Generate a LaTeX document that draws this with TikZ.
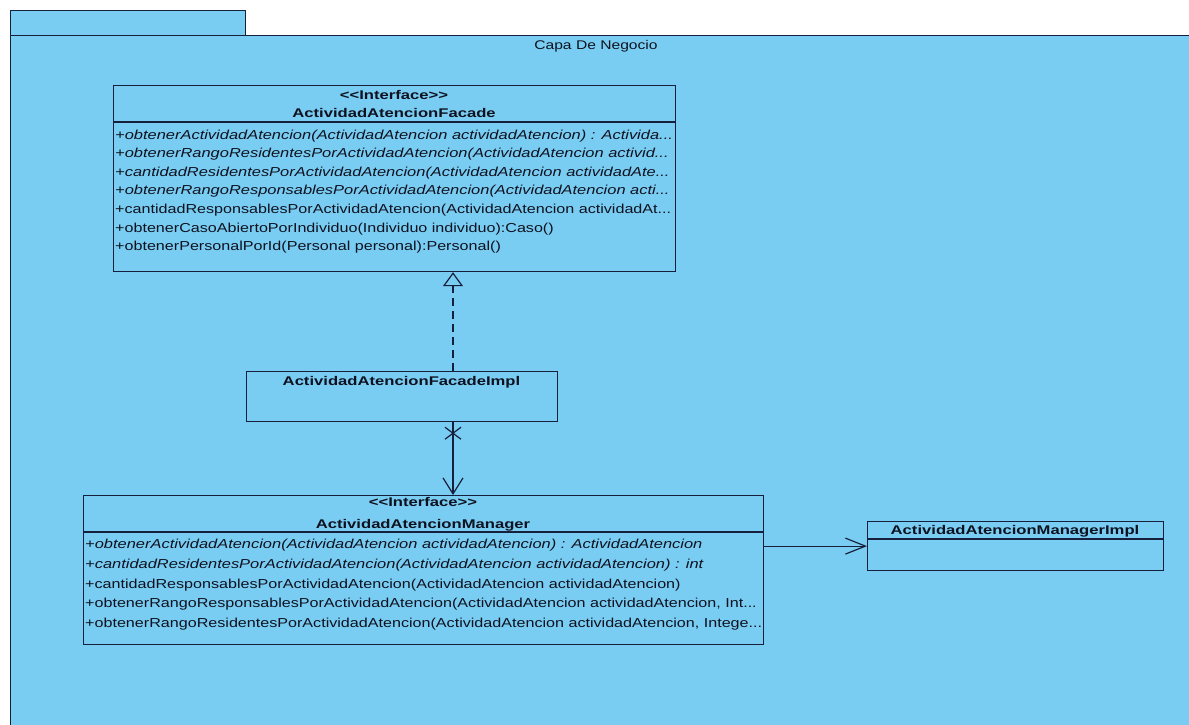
\documentclass[tikz,border=0pt]{standalone}
\usepackage{fontspec}
\setmainfont{Liberation Sans}
\newfontfamily\umltext{Liberation Sans}[FakeStretch=1.24]
\newfontfamily\umlitext{Liberation Sans}[FakeStretch=1.265]
\newfontfamily\umlhead{Liberation Sans}[FakeStretch=1.32]
\usetikzlibrary{arrows.meta,calc}
\definecolor{pkgfill}{RGB}{122,205,242}
\definecolor{edgecol}{RGB}{22,32,60}
\definecolor{ink}{RGB}{14,18,32}
\tikzset{
  pkgpart/.style={draw=edgecol, fill=pkgfill, line width=1.2pt, anchor=north west, inner sep=0pt},
  classbox/.style={draw=edgecol, line width=1.2pt, anchor=north west, inner sep=0pt},
  divider/.style={draw=edgecol, line width=1.2pt},
  conn/.style={draw=edgecol, line width=1.2pt},
  op/.style={anchor=west, inner sep=0pt, text=ink, text height=9.3pt, text depth=0pt,
    font=\umltext\fontsize{13pt}{15pt}\selectfont},
  opit/.style={op, font=\umlitext\itshape\fontsize{13pt}{15pt}\selectfont},
  head/.style={inner sep=0pt, text=ink, text height=9.3pt, text depth=0pt,
    font=\umlhead\bfseries\fontsize{12.6pt}{15pt}\selectfont},
  pkgname/.style={inner sep=0pt, text=ink, text height=9.3pt, text depth=0pt,
    font=\umltext\fontsize{12.6pt}{15pt}\selectfont},
}
\newcommand{\stereo}[1]{<\kern0pt<#1>\kern0pt>}
\begin{document}
\begin{tikzpicture}[x=1pt,y=-1pt]
\useasboundingbox (0,0) rectangle (1189,724);
\fill[white] (0,0) rectangle (1189,724);
\begin{scope}
\clip (0,0) rectangle (1189,724);

% package "Capa De Negocio"
\node[pkgpart, minimum width=235pt, minimum height=25pt] (tab) at (10,10) {};
\node[pkgpart, minimum width=1200pt, minimum height=720pt] (pkgbody) at (10,35) {};
\node[pkgname] (pkglabel) at (596,45) {Capa De Negocio};

% interface ActividadAtencionFacade
\node[classbox, minimum width=562pt, minimum height=186pt] (facade) at (113,85) {};
\draw[divider] ([yshift=-37pt]facade.north west) -- ([yshift=-37pt]facade.north east);
\node[head] (facadest) at (394,95) {\stereo{Interface}};
\node[head] (facadename) at (394,113) {ActividadAtencionFacade};
\node[opit] (f1) at (115,134.5) {+obtenerActividadAtencion(ActividadAtencion actividadAtencion) : Activida...};
\node[opit] (f2) at (115,153.1) {+obtenerRangoResidentesPorActividadAtencion(ActividadAtencion activid...};
\node[opit] (f3) at (115,171.7) {+cantidadResidentesPorActividadAtencion(ActividadAtencion actividadAte...};
\node[opit] (f4) at (115,190.3) {+obtenerRangoResponsablesPorActividadAtencion(ActividadAtencion acti...};
\node[op]   (f5) at (115,208.9) {+cantidadResponsablesPorActividadAtencion(ActividadAtencion actividadAt...};
\node[op]   (f6) at (115,227.5) {+obtenerCasoAbiertoPorIndividuo(Individuo individuo):Caso()};
\node[op]   (f7) at (115,246.1) {+obtenerPersonalPorId(Personal personal):Personal()};

% class ActividadAtencionFacadeImpl
\node[classbox, minimum width=311pt, minimum height=50pt] (impl) at (246,371) {};
\node[head] (implname) at (401.5,381) {ActividadAtencionFacadeImpl};

% interface ActividadAtencionManager
\node[classbox, minimum width=680pt, minimum height=149pt] (mgr) at (83,495) {};
\draw[divider] ([yshift=-37pt]mgr.north west) -- ([yshift=-37pt]mgr.north east);
\node[head] (mgrst) at (423,502) {\stereo{Interface}};
\node[head] (mgrname) at (423,524) {ActividadAtencionManager};
\node[opit] (m1) at (85,544) {+obtenerActividadAtencion(ActividadAtencion actividadAtencion) : ActividadAtencion};
\node[opit] (m2) at (85,564) {+cantidadResidentesPorActividadAtencion(ActividadAtencion actividadAtencion) : int};
\node[op]   (m3) at (85,583.5) {+cantidadResponsablesPorActividadAtencion(ActividadAtencion actividadAtencion)};
\node[op]   (m4) at (85,603.3) {+obtenerRangoResponsablesPorActividadAtencion(ActividadAtencion actividadAtencion, Int...};
\node[op]   (m5) at (85,623) {+obtenerRangoResidentesPorActividadAtencion(ActividadAtencion actividadAtencion, Intege...};

% class ActividadAtencionManagerImpl
\node[classbox, minimum width=296pt, minimum height=49pt] (mimpl) at (867,521) {};
\draw[divider] ([yshift=-18pt]mimpl.north west) -- ([yshift=-18pt]mimpl.north east);
\node[head] (mimplname) at (1015,530) {ActividadAtencionManagerImpl};

% connectors
\coordinate (axis) at (453,0);
\draw[conn, dash pattern=on 8pt off 5pt, -{Triangle[open, length=14pt, width=20pt]}]
  (impl.north -| axis) -- (facade.south -| axis);
\draw[conn, -{Straight Barb[length=16pt, width=20pt]}]
  (impl.south -| axis) -- (mgr.north -| axis);
\coordinate (xmark) at ($(impl.south -| axis)+(0,11)$);
\draw[conn] (xmark) +(-8,-6) -- +(8,6) (xmark) +(-8,6) -- +(8,-6);
\draw[conn, -{Straight Barb[length=20pt, width=16pt]}]
  (mgr.east |- mimpl.west) -- (mimpl.west);
\end{scope}
\end{tikzpicture}
\end{document}
